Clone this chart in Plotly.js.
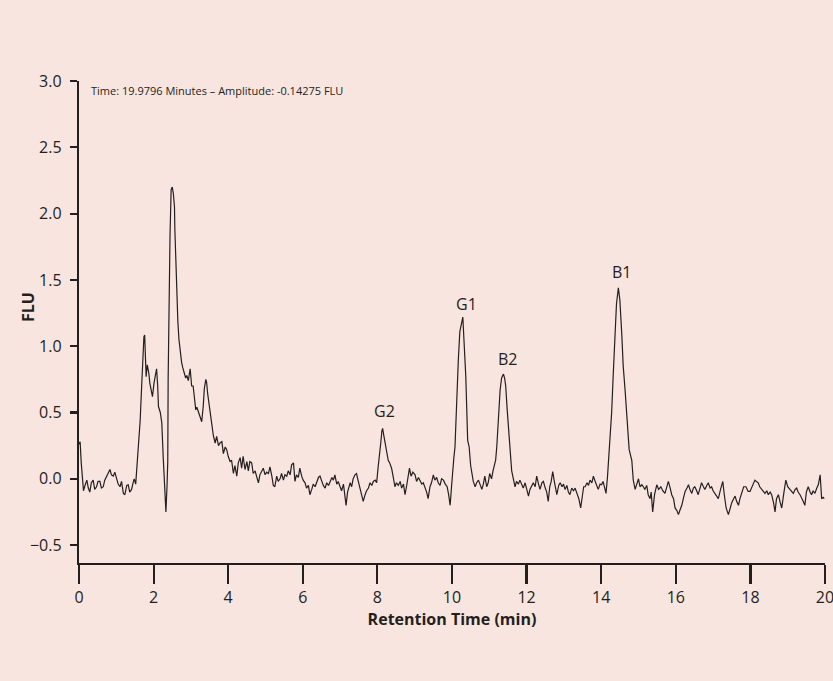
<!DOCTYPE html>
<html>
<head>
<meta charset="utf-8">
<script src="https://cdn.plot.ly/plotly-3.0.1.min.js"></script>
<style>html,body{margin:0;padding:0;background:#f9e5df;}#chart{width:833px;height:681px;}</style>
</head>
<body>
<div id="chart"></div>
<script>
// Retention time (min) and signal (FLU), in segments
const timeA = [0, 0.03, 0.06, 0.09, 0.12, 0.16, 0.21, 0.25, 0.29, 0.33, 0.38, 0.42, 0.47, 0.51, 0.56, 0.60, 0.65, 0.69, 0.74, 0.78, 0.83, 0.87, 0.92, 0.96, 1.01, 1.05, 1.10, 1.14, 1.19, 1.23, 1.28, 1.32, 1.36, 1.41, 1.45, 1.48, 1.52, 1.55, 1.59, 1.64, 1.68, 1.71, 1.74];
const fluA  = [0.26, 0.28, 0.12, -0.02, -0.09, -0.05, -0.01, -0.07, -0.10, -0.03, -0.01, -0.08, -0.06, -0.02, -0.02, -0.07, -0.06, -0.01, 0.02, 0.04, 0.07, 0.03, 0.02, 0.05, -0.01, -0.04, -0.06, -0.02, -0.11, -0.12, -0.05, -0.045, -0.10, -0.08, -0.03, 0.0, -0.04, 0.07, 0.22, 0.44, 0.70, 0.96, 1.07];

const timeB = [1.76, 1.80, 1.83, 1.87, 1.90, 1.94, 1.97, 2.01, 2.05, 2.08, 2.11, 2.13, 2.18, 2.22, 2.26, 2.30, 2.33, 2.36, 2.38, 2.39, 2.41, 2.44, 2.47];
const fluB  = [1.085, 0.77, 0.86, 0.80, 0.72, 0.66, 0.62, 0.72, 0.78, 0.83, 0.70, 0.545, 0.50, 0.42, 0.15, -0.12, -0.25, -0.05, 0.13, 0.75, 1.33, 1.83, 2.18];

const timeC = [2.50, 2.53, 2.56, 2.57, 2.60, 2.63, 2.65, 2.68, 2.71, 2.75, 2.78, 2.82, 2.86, 2.89, 2.93, 2.98, 3.02, 3.06, 3.09, 3.13, 3.16, 3.20, 3.25, 3.29, 3.33, 3.36, 3.40, 3.42, 3.45, 3.49, 3.53, 3.56, 3.60, 3.65, 3.69, 3.74, 3.78, 3.83, 3.87, 3.92, 3.96, 4.00];
const fluC  = [2.20, 2.15, 2.05, 1.88, 1.60, 1.33, 1.19, 1.05, 0.97, 0.88, 0.84, 0.80, 0.76, 0.78, 0.74, 0.83, 0.70, 0.70, 0.60, 0.52, 0.54, 0.50, 0.47, 0.43, 0.545, 0.68, 0.75, 0.73, 0.64, 0.545, 0.45, 0.39, 0.33, 0.27, 0.32, 0.25, 0.27, 0.28, 0.19, 0.24, 0.22, 0.17];

const timeD = [4.05, 4.09, 4.14, 4.18, 4.23, 4.27, 4.32, 4.36, 4.40, 4.45, 4.50, 4.54, 4.58, 4.63, 4.67, 4.72, 4.76, 4.81, 4.85, 4.90, 4.94, 4.99, 5.03, 5.08, 5.12, 5.17, 5.21, 5.25, 5.30, 5.34, 5.39, 5.43, 5.48, 5.52, 5.57, 5.61, 5.66, 5.70, 5.75, 5.79, 5.83, 5.88, 5.92, 5.97, 6.01, 6.06, 6.10, 6.15, 6.19, 6.24, 6.28, 6.33, 6.37, 6.42, 6.46, 6.51, 6.55, 6.60, 6.64, 6.69, 6.73, 6.78, 6.82, 6.86, 6.91, 6.95, 7.00, 7.04, 7.09, 7.13, 7.16, 7.20, 7.27, 7.31, 7.35, 7.40, 7.44, 7.48, 7.53, 7.57, 7.62, 7.67, 7.71, 7.76, 7.80, 7.85, 7.89, 7.94, 7.98, 8.02];
const fluD  = [0.13, 0.14, 0.04, 0.10, 0.02, 0.12, 0.16, 0.08, 0.17, 0.07, 0.13, 0.06, 0.13, 0.12, 0.04, 0.06, 0.01, -0.03, 0.03, 0.06, 0.08, 0.03, 0.05, 0.04, 0.09, 0.02, -0.05, -0.06, 0.02, -0.02, 0.0, 0.04, -0.01, 0.03, 0.02, 0.06, 0.03, 0.105, 0.12, -0.02, 0.03, 0.01, 0.08, 0.02, -0.01, -0.03, -0.07, -0.05, -0.12, -0.08, -0.04, -0.06, -0.02, 0.01, 0.02, -0.03, -0.05, -0.07, -0.03, -0.05, -0.02, 0.01, -0.01, 0.03, -0.04, -0.02, -0.06, -0.09, -0.04, -0.12, -0.20, -0.10, -0.03, -0.06, 0.00, 0.03, 0.04, -0.01, -0.06, -0.10, -0.17, -0.12, -0.09, -0.07, -0.03, -0.05, -0.02, -0.01, -0.03, 0.09];

const timeE = [8.06, 8.09, 8.12, 8.14, 8.17, 8.20, 8.24, 8.29, 8.33, 8.38, 8.42, 8.47, 8.51, 8.56, 8.61, 8.65, 8.70, 8.74, 8.78, 8.82, 8.86, 8.90, 8.95, 9.01, 9.05, 9.10, 9.14, 9.19, 9.23, 9.28, 9.32, 9.36, 9.41, 9.45, 9.50, 9.54, 9.59, 9.63, 9.68, 9.72, 9.77, 9.82, 9.87, 9.91, 9.95, 9.99, 10.02, 10.05, 10.08];
const fluE  = [0.17, 0.27, 0.36, 0.38, 0.33, 0.28, 0.20, 0.14, 0.12, 0.08, 0.02, -0.06, -0.03, -0.05, -0.02, -0.07, -0.04, -0.12, -0.06, 0.00, 0.08, 0.02, 0.05, 0.03, -0.02, 0.01, -0.01, -0.04, -0.03, -0.07, -0.10, -0.15, -0.06, -0.03, 0.03, -0.01, 0.01, -0.03, -0.05, 0.00, -0.01, -0.04, -0.06, -0.12, -0.20, -0.05, 0.08, 0.16, 0.24];

const timeF = [10.10, 10.13, 10.17, 10.21, 10.26, 10.29, 10.32, 10.37, 10.42, 10.46, 10.50, 10.53, 10.57, 10.62, 10.66, 10.71, 10.75, 10.80, 10.84, 10.88, 10.93, 10.97, 11.01, 11.06, 11.10, 11.13, 11.17, 11.20, 11.24, 11.29, 11.33, 11.38, 11.41, 11.44, 11.48, 11.53, 11.57, 11.60, 11.63, 11.66, 11.69, 11.73, 11.78, 11.82, 11.87, 11.91, 11.96, 12.00, 12.05];
const fluF  = [0.40, 0.52, 0.90, 1.11, 1.17, 1.22, 1.05, 0.77, 0.29, 0.24, 0.10, 0.04, -0.02, -0.06, -0.03, -0.01, -0.05, -0.08, -0.04, 0.02, -0.06, -0.03, 0.04, 0.00, 0.06, 0.09, 0.14, 0.24, 0.47, 0.67, 0.76, 0.79, 0.76, 0.70, 0.52, 0.29, 0.14, 0.06, 0.02, -0.04, -0.06, -0.02, -0.04, -0.01, -0.05, -0.07, -0.03, -0.08, -0.13];

const timeG = [12.09, 12.14, 12.18, 12.23, 12.27, 12.32, 12.36, 12.41, 12.45, 12.50, 12.54, 12.58, 12.62, 12.66, 12.70, 12.75, 12.81, 12.86, 12.90, 12.95, 12.99, 13.03, 13.08, 13.12, 13.16, 13.21, 13.26, 13.30, 13.35, 13.40, 13.45, 13.49, 13.53, 13.57, 13.62, 13.66, 13.70, 13.75, 13.79, 13.84, 13.88, 13.92, 13.97, 14.01, 14.05, 14.09, 14.13, 14.17];
const fluG  = [-0.08, -0.05, -0.03, -0.06, 0.02, -0.04, -0.08, -0.03, -0.02, -0.07, -0.10, -0.17, -0.06, -0.02, 0.055, -0.03, -0.12, -0.05, -0.03, -0.06, -0.04, -0.08, -0.05, -0.10, -0.12, -0.07, -0.09, -0.07, -0.11, -0.15, -0.22, -0.12, -0.06, -0.06, -0.03, -0.05, -0.01, -0.03, 0.02, -0.02, -0.05, -0.08, -0.04, -0.045, -0.02, -0.06, -0.11, 0.02];

const timeH = [14.22, 14.25, 14.28, 14.32, 14.37, 14.41, 14.46, 14.50, 14.55, 14.59, 14.64, 14.70, 14.75, 14.82, 14.86, 14.91, 14.96, 15.00, 15.04, 15.09, 15.13, 15.17, 15.22, 15.26, 15.31, 15.34, 15.38, 15.43, 15.49, 15.54, 15.60, 15.65, 15.71, 15.76, 15.80, 15.85, 15.89, 15.94, 15.98, 16.03, 16.07, 16.12, 16.16, 16.21, 16.25, 16.30, 16.34, 16.38, 16.43, 16.47, 16.51, 16.56, 16.60, 16.65, 16.69, 16.74, 16.78, 16.83, 16.87, 16.92, 16.96, 17.00, 17.05, 17.10, 17.14, 17.20, 17.26, 17.30, 17.35, 17.41, 17.45, 17.50, 17.55, 17.59, 17.63, 17.68, 17.72, 17.76, 17.82, 17.88, 17.94, 17.99, 18.05, 18.12, 18.16, 18.21, 18.25, 18.30, 18.35, 18.39, 18.44, 18.48, 18.53, 18.57, 18.62, 18.66, 18.70, 18.75, 18.80, 18.84, 18.90, 18.95, 19.00, 19.06, 19.10, 19.15, 19.20, 19.24, 19.28, 19.33, 19.40, 19.46, 19.50, 19.55, 19.60, 19.64, 19.68, 19.73, 19.78, 19.82, 19.87, 19.91, 19.95, 19.98];
const fluH  = [0.22, 0.35, 0.50, 0.77, 1.02, 1.32, 1.44, 1.35, 1.10, 0.85, 0.67, 0.42, 0.22, 0.14, -0.01, -0.08, -0.03, 0.00, -0.06, -0.045, -0.06, -0.08, -0.05, -0.12, -0.15, -0.10, -0.25, -0.12, -0.045, -0.08, -0.06, -0.09, -0.11, -0.05, -0.02, -0.07, -0.12, -0.15, -0.22, -0.24, -0.27, -0.23, -0.20, -0.14, -0.095, -0.07, -0.045, -0.08, -0.11, -0.07, -0.06, -0.09, -0.12, -0.07, -0.03, -0.06, -0.08, -0.05, -0.03, -0.07, -0.06, -0.09, -0.11, -0.13, -0.15, -0.08, -0.02, -0.12, -0.22, -0.27, -0.22, -0.18, -0.15, -0.13, -0.17, -0.20, -0.15, -0.12, -0.06, -0.06, -0.095, -0.095, -0.05, -0.01, -0.02, -0.03, -0.06, -0.08, -0.10, -0.11, -0.09, -0.12, -0.10, -0.12, -0.18, -0.25, -0.15, -0.12, -0.18, -0.22, -0.10, -0.01, -0.06, -0.08, -0.10, -0.11, -0.08, -0.07, -0.10, -0.12, -0.16, -0.20, -0.10, -0.06, -0.10, -0.12, -0.09, -0.11, -0.07, -0.045, 0.03, -0.15, -0.14, -0.15];

// Peak labels
const peakNames = ['G2', 'G1', 'B2', 'B1'];
const peakTimes = [8.2, 10.38, 11.48, 14.55];
const peakLabelY = [0.51, 1.32, 0.905, 1.56];

const headerText = 'Time: 19.9796 Minutes – Amplitude: -0.14275 FLU';
const xTicks = [0, 2, 4, 6, 8, 10, 12, 14, 16, 18, 20];
const yTicks = [-0.5, 0, 0.5, 1.0, 1.5, 2.0, 2.5, 3.0];

const time = [].concat(timeA, timeB, timeC, timeD, timeE, timeF, timeG, timeH);
const flu = [].concat(fluA, fluB, fluC, fluD, fluE, fluF, fluG, fluH);

const ink = '#231f20';
const bg = '#f9e5df';
const fontFam = 'Open Sans, Lato, sans-serif';

const trace = {
  x: time, y: flu, type: 'scatter', mode: 'lines',
  line: {color: ink, width: 1.2}, hoverinfo: 'skip'
};

const annotations = peakNames.map((n, i) => ({
  x: peakTimes[i], y: peakLabelY[i], xref: 'x', yref: 'y', text: n,
  showarrow: false, font: {family: fontFam, size: 16, color: ink}
}));
annotations.push({
  x: 0.27, y: 2.925, xref: 'x', yref: 'y', text: headerText, xanchor: 'left',
  showarrow: false, font: {family: fontFam, size: 11, color: ink}
});
// y-axis title placed as rotated text
annotations.push({
  x: -0.0684, y: 0.531, xref: 'paper', yref: 'paper', text: '<b>FLU</b>', textangle: -90,
  xanchor: 'center', yanchor: 'middle',
  showarrow: false, font: {family: fontFam, size: 16, color: ink}
});

const layout = {
  width: 833, height: 681,
  paper_bgcolor: bg, plot_bgcolor: bg,
  margin: {l: 79, r: 8, t: 81, b: 118},
  showlegend: false,
  font: {family: fontFam, color: ink, size: 16},
  xaxis: {
    range: [0, 20], tickvals: xTicks, ticktext: xTicks.map(String),
    showline: true, linecolor: ink, linewidth: 2.2,
    ticks: 'outside', ticklen: 19, tickwidth: 2.2, tickcolor: ink,
    ticklabeloverflow: 'allow',
    showgrid: false, zeroline: false,
    tickfont: {family: fontFam, size: 16, color: ink},
    title: {text: 'Retention Time (min)', standoff: 6, font: {family: fontFam, size: 16, color: ink, weight: 'bold'}}
  },
  yaxis: {
    range: [-0.635, 3.0], tickvals: yTicks, tickformat: '.1f',
    showline: true, linecolor: ink, linewidth: 2.2,
    ticks: 'outside', ticklen: 7, tickwidth: 2.2, tickcolor: ink,
    ticklabelstandoff: 5,
    showgrid: false, zeroline: false,
    tickfont: {family: fontFam, size: 16, color: ink}
  },
  annotations: annotations
};

Plotly.newPlot('chart', [trace], layout, {displayModeBar: false, staticPlot: true});
</script>
</body>
</html>
